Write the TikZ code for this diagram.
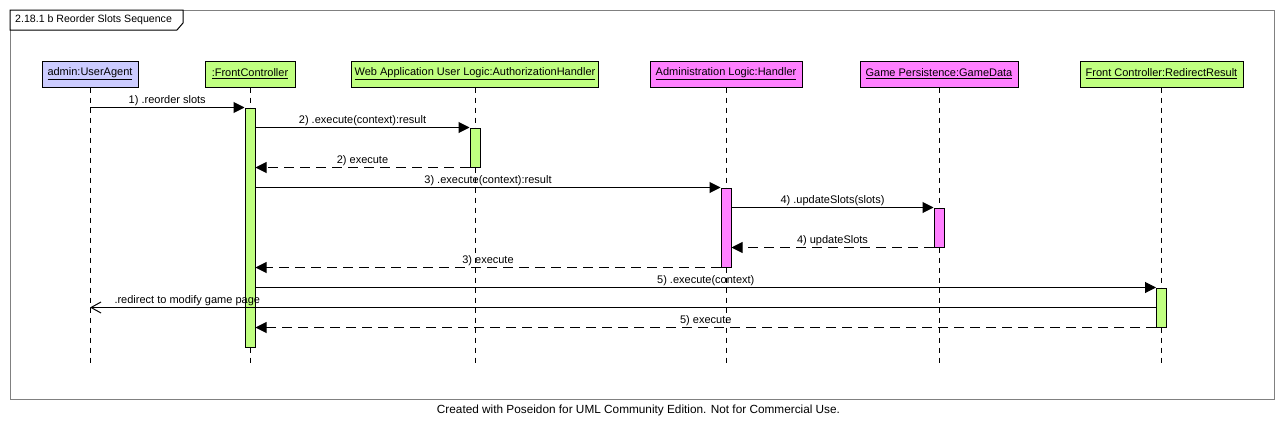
\documentclass[tikz,border=0pt]{standalone}
\usepackage{fontspec}
\setmainfont{Liberation Sans}
\usepackage{xcolor}
\usetikzlibrary{arrows.meta}

\definecolor{uablue}{RGB}{204,204,255}
\definecolor{objgreen}{RGB}{192,255,128}
\definecolor{objpink}{RGB}{255,128,255}
\definecolor{framegray}{RGB}{128,128,128}

\tikzset{
  lbl/.style={font=\fontsize{11}{13}\selectfont},
  part/.style={draw, line width=1pt, lbl, minimum height=26pt, inner xsep=2pt},
  actbar/.style={draw, line width=1pt, minimum width=10pt, inner sep=0pt},
  lifeline/.style={line width=1pt, dash pattern=on 5pt off 5pt},
  msg/.style={line width=1pt, -{Triangle[length=11pt,width=11pt]}},
  ret/.style={line width=1pt, dash pattern=on 10pt off 6pt, -{Triangle[length=11pt,width=11pt]}},
  reply/.style={line width=1pt, -{Straight Barb[length=10pt,width=11pt]}},
  mtext/.style={lbl, above, inner sep=1pt, text depth=2.5pt}
}

\begin{document}
\begin{tikzpicture}[x=1pt,y=-1pt]
\useasboundingbox (0,0) rectangle (1284,431);
% frame
\draw[framegray, line width=1pt] (10,10) rectangle (1274,399);
\draw[line width=1pt, fill=white] (10,10) -- (183,10) -- (183,23) -- (177,30) -- (10,30) -- cycle;
\node[font=\fontsize{10.6}{13}\selectfont, anchor=west, inner sep=0pt] (title) at (15,20) {2.18.1 b Reorder Slots Sequence};

% participants
\node[part, fill=uablue, minimum width=96pt] (ua) at (90,74) {\underline{admin:UserAgent}};
\node[part, fill=objgreen, minimum width=90pt] (fc) at (250,74) {\underline{:FrontController}};
\node[part, fill=objgreen, minimum width=247pt] (ah) at (475,74) {\underline{Web Application User Logic:AuthorizationHandler}};
\node[part, fill=objpink, minimum width=152pt] (hd) at (726,74) {\underline{Administration Logic:Handler}};
\node[part, fill=objpink, minimum width=158pt] (gd) at (939,74) {\underline{Game Persistence:GameData}};
\node[part, fill=objgreen, minimum width=163pt] (rr) at (1161.5,74) {\underline{Front Controller:RedirectResult}};

% lifelines
\coordinate (lifeend) at (0,366);
\foreach \p in {ua,fc,ah,hd,gd,rr}
  \draw[lifeline] (\p.south) -- (\p.south |- lifeend);

% activations
\node[actbar, fill=objgreen, minimum height=239pt] (fc1) at (250,227.5) {};
\node[actbar, fill=objgreen, minimum height=39pt] (ah1) at (475,147.5) {};
\node[actbar, fill=objpink, minimum height=79pt] (hd1) at (726,227.5) {};
\node[actbar, fill=objpink, minimum height=39pt] (gd1) at (939,227.5) {};
\node[actbar, fill=objgreen, minimum height=39pt] (rr1) at (1161.5,307.5) {};

% messages
\draw[msg] (ua.south |- fc1.north west) -- node[mtext] {1) .reorder slots} (fc1.north west);
\draw[msg] (fc1.east |- ah1.north) -- node[mtext] {2) .execute(context):result} (ah1.north west);
\draw[ret] (ah1.south west) -- node[mtext] {2) execute} (fc1.east |- ah1.south);
\draw[msg] (fc1.east |- hd1.north) -- node[mtext] {3) .execute(context):result} (hd1.north west);
\draw[msg] (hd1.east |- gd1.north) -- node[mtext] {4) .updateSlots(slots)} (gd1.north west);
\draw[ret] (gd1.south west) -- node[mtext] {4) updateSlots} (hd1.east |- gd1.south);
\draw[ret] (hd1.south west) -- node[mtext] {3) execute} (fc1.east |- hd1.south);
\draw[msg] (fc1.east |- rr1.north) -- node[mtext] {5) .execute(context)} (rr1.north west);
\draw[reply] (rr1.west) -- node[mtext, pos=1, anchor=south west, xshift=23pt] {.redirect to modify game page} (ua.south |- rr1.west);
\draw[ret] (rr1.south west) -- node[mtext] {5) execute} (fc1.east |- rr1.south);

% footer
\node[font=\fontsize{11.8}{14}\selectfont, inner sep=0pt] (footer) at (638.5,410) {Created with Poseidon for UML Community Edition. Not for Commercial Use.};
\end{tikzpicture}
\end{document}
